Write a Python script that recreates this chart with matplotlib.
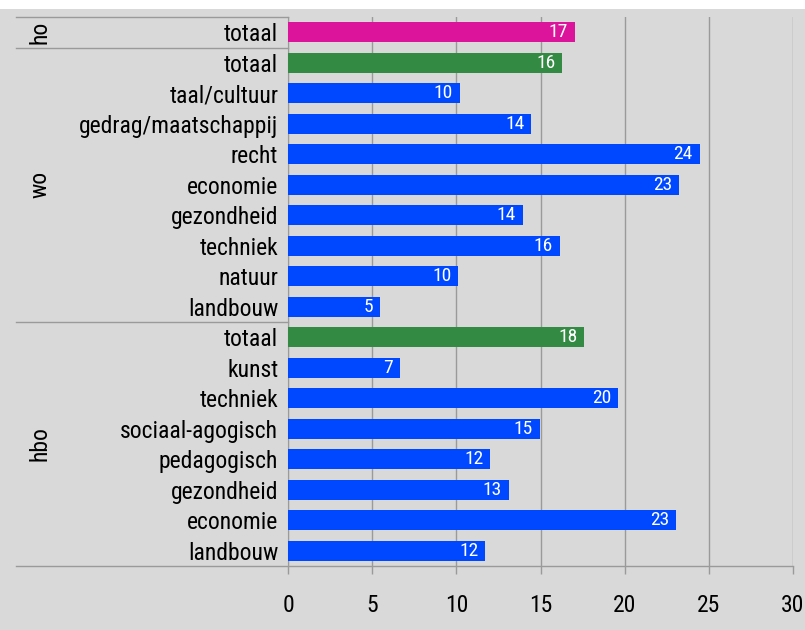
import matplotlib
matplotlib.use("Agg")
import matplotlib.pyplot as plt
import matplotlib.transforms as mtransforms
from matplotlib.patches import Rectangle

plt.rcParams["font.family"] = ["Liberation Sans Narrow", "Roboto Condensed", "DejaVu Sans"]
plt.rcParams["font.stretch"] = "condensed"

# rows top to bottom
categories = ["totaal",
              "totaal", "taal/cultuur", "gedrag/maatschappij", "recht", "economie",
              "gezondheid", "techniek", "natuur", "landbouw",
              "totaal", "kunst", "techniek", "sociaal-agogisch", "pedagogisch",
              "gezondheid", "economie", "landbouw"]
values = [17.05,
          16.3, 10.2, 14.45, 24.45, 23.25, 13.95, 16.15, 10.1, 5.45,
          17.6, 6.65, 19.6, 14.95, 12.0, 13.1, 23.05, 11.7]
kinds = ["ho"] + ["tot"] + ["sub"] * 8 + ["tot"] + ["sub"] * 7
groups = ["ho", "wo", "hbo"]
group_rows = [(0, 0), (1, 9), (10, 17)]

COLORS = {"ho": "#dc149b", "tot": "#338a42", "sub": "#0048ff"}
BG = "#d9d9d9"
LINE = "#9a9a9a"

fig = plt.figure(figsize=(8.05, 6.30), dpi=100, facecolor="white")
fig.patches.append(Rectangle((0, 0), 1, 1 - 9 / 630, transform=fig.transFigure,
                             facecolor=BG, edgecolor="none", zorder=-10))
ax = fig.add_axes([288 / 805, 64 / 630, 505 / 805, 549 / 630])
ax.set_facecolor(BG)

y = list(range(len(categories)))
ax.barh(y, values, height=0.66, color=[COLORS[k] for k in kinds], zorder=3)
for yi, v in zip(y, values):
    ax.text(v - 0.4, yi, f"{v:.0f}", color="white", fontsize=14,
            ha="right", va="center", zorder=4)

ax.set_xlim(0, 30)
ax.set_ylim(len(categories) - 0.5, -0.5)
ax.set_xticks(range(0, 31, 5))
ax.tick_params(axis="x", length=6, width=1, color=LINE, pad=14, labelsize=17)
ax.set_yticks(y)
ax.set_yticklabels(categories, fontsize=17)
ax.tick_params(axis="y", length=0, pad=7)
ax.grid(True, axis="x", color=LINE, linewidth=1, zorder=0)
for s in ["top", "right"]:
    ax.spines[s].set_visible(False)
ax.spines["left"].set_color(LINE)
ax.spines["bottom"].set_visible(False)

# group separators and bottom line run out to the left margin
trans = mtransforms.blended_transform_factory(fig.transFigure, ax.transData)
x_left = 16 / 805
x_right = 793 / 805
for sep in [-0.5, 0.5, 9.5]:
    ax.plot([x_left, 288 / 805], [sep, sep], transform=trans, color=LINE,
            linewidth=1, clip_on=False)
ax.plot([x_left, x_right], [17.5, 17.5], transform=trans, color=LINE,
        linewidth=1, clip_on=False)

for g, (r0, r1) in zip(groups, group_rows):
    ax.text(40 / 805, (r0 + r1) / 2, g, transform=trans, rotation=90,
            ha="center", va="center", fontsize=17)

fig.savefig("out.png", dpi=100, facecolor=fig.get_facecolor())
